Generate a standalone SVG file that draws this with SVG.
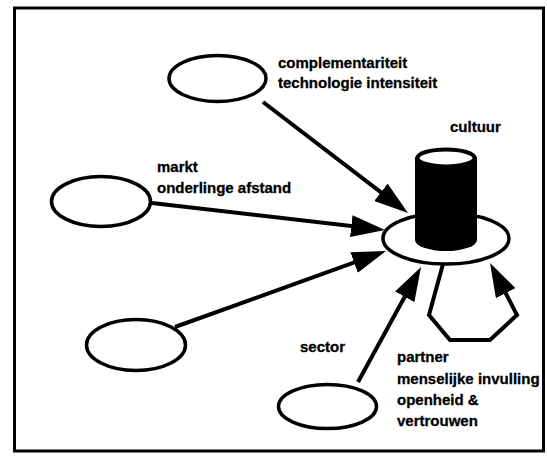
<svg xmlns="http://www.w3.org/2000/svg" width="547" height="458" viewBox="0 0 547 458">
  <style>
    .node { fill: #fff; stroke: #000; stroke-width: 3.5; }
    .link { fill: none; stroke: #000; stroke-width: 4; stroke-linejoin: miter; }
    .label { font-family: "Liberation Sans", Arial, sans-serif; font-weight: bold; font-size: 15px; fill: #000; stroke: #000; stroke-width: 0.3; }
  </style>
  <defs>
    <marker id="head" markerUnits="userSpaceOnUse" markerWidth="34" markerHeight="22" refX="26" refY="11" orient="auto">
      <path d="M0,0 L34,11 L0,22 Z" fill="#000"/>
    </marker>
  </defs>

  <rect width="547" height="458" fill="#fff"/>
  <!-- outer frame -->
  <rect x="14.5" y="8" width="529" height="443" fill="none" stroke="#000" stroke-width="3"/>

  <!-- connectors -->
  <g id="connectors">
    <line class="link" x1="263" y1="102" x2="401.6" y2="208.1" marker-end="url(#head)"/>
    <line class="link" x1="152" y1="203" x2="377.1" y2="229.1" marker-end="url(#head)"/>
    <line class="link" x1="175" y1="327" x2="378.5" y2="253.7" marker-end="url(#head)"/>
    <line class="link" x1="358" y1="382" x2="417.2" y2="274" marker-end="url(#head)"/>
  </g>

  <!-- central node: ring with cylinder and feedback loop -->
  <g id="cultuur">
    <ellipse class="node" cx="446" cy="238.5" rx="63" ry="25.5"/>
    <path d="M415,157 L415,240 A31,11 0 0 0 477,240 L477,157 Z" fill="#000"/>
    <ellipse cx="446" cy="158" rx="28.5" ry="8.5" fill="#fff" stroke="#000" stroke-width="4"/>
    <polyline class="link" points="443,264 429,315 450,340 490,340 517,315 493.7,270.1" marker-end="url(#head)"/>
    <text class="label" x="450" y="132">cultuur</text>
  </g>

  <g id="complementariteit">
    <ellipse class="node" cx="217.5" cy="78.5" rx="48.5" ry="23"/>
    <text class="label" x="278" y="68">complementariteit</text>
    <text class="label" x="278" y="88">technologie intensiteit</text>
  </g>

  <g id="markt">
    <ellipse class="node" cx="101" cy="201.5" rx="49.5" ry="25"/>
    <text class="label" x="157" y="172">markt</text>
    <text class="label" x="157" y="193">onderlinge afstand</text>
  </g>

  <g id="onbenoemd">
    <ellipse class="node" cx="136" cy="345" rx="49.5" ry="25.5"/>
  </g>

  <g id="sector">
    <ellipse class="node" cx="327.5" cy="406.5" rx="49" ry="22"/>
    <text class="label" x="300" y="352">sector</text>
  </g>

  <g id="partner">
    <text class="label" x="397" y="362">partner</text>
    <text class="label" x="397" y="384">menselijke invulling</text>
    <text class="label" x="397" y="405">openheid &amp;</text>
    <text class="label" x="397" y="426">vertrouwen</text>
  </g>
</svg>
